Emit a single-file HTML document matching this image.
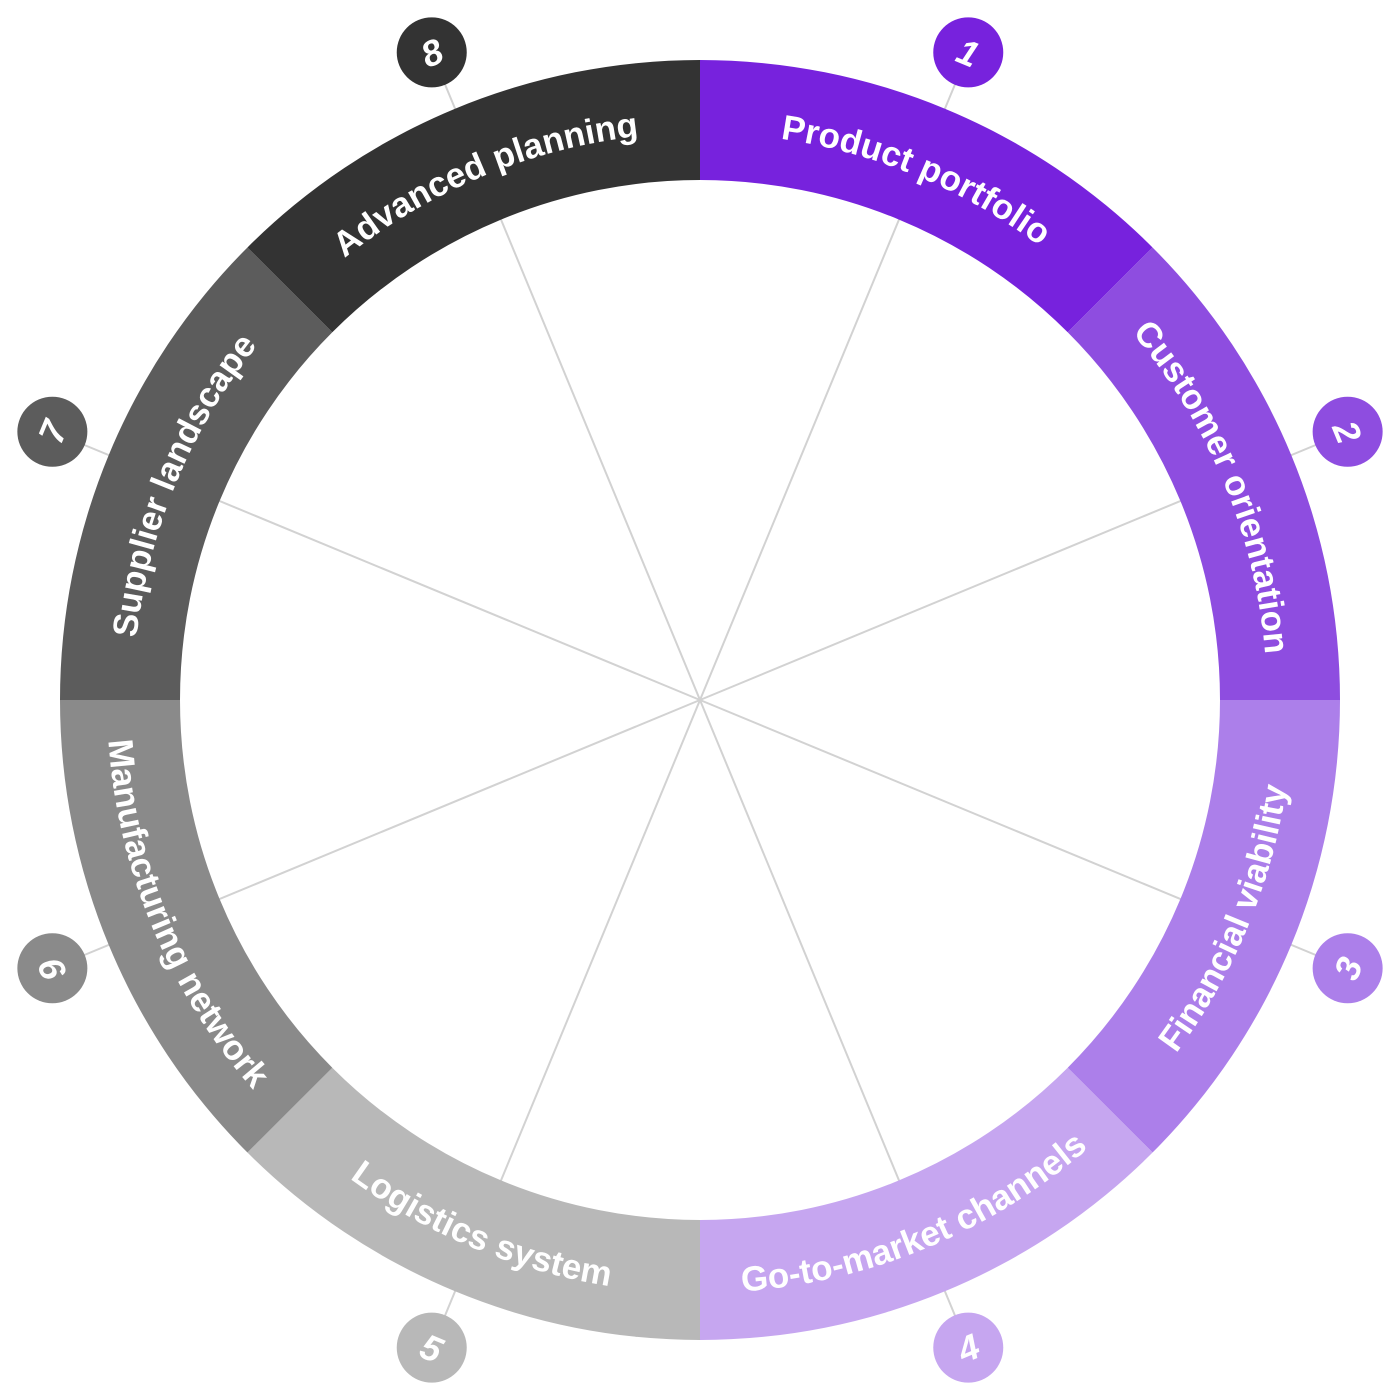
<!DOCTYPE html>
<html><head><meta charset="utf-8"><style>
html,body{margin:0;padding:0;background:#fff;width:1400px;height:1400px;overflow:hidden}
svg text{font-family:"Liberation Sans",sans-serif;fill:#fff}
</style></head><body>
<svg id="chart" width="1400" height="1400" viewBox="0 0 1400 1400" xmlns="http://www.w3.org/2000/svg">
<defs id="defs"></defs>
<g id="spokes"></g>
<g id="ring"></g>
<g id="labels"></g>
<g id="badges"></g>
</svg>
<script>
const categories = ["Product portfolio","Customer orientation","Financial viability","Go-to-market channels","Logistics system","Manufacturing network","Supplier landscape","Advanced planning"];
const numbers = ["1","2","3","4","5","6","7","8"];
const colors = ["#7722DD","#8E4DE0","#AC7FEA","#C6A6F0","#B8B8B8","#8A8A8A","#5C5C5C","#333333"];

const NS="http://www.w3.org/2000/svg";
const cx=700, cy=700, rOut=640, rIn=520, rBadge=701;
const n=categories.length, step=360/n;
function pt(r,a){const t=a*Math.PI/180;return [cx+r*Math.sin(t), cy-r*Math.cos(t)];}
function mk(tag,attrs,parent){const e=document.createElementNS(NS,tag);for(const k in attrs)e.setAttribute(k,attrs[k]);parent.appendChild(e);return e;}
const defs=document.getElementById('defs'), spokes=document.getElementById('spokes'), ring=document.getElementById('ring'), labels=document.getElementById('labels'), badges=document.getElementById('badges');

categories.forEach((cat,i)=>{
  const a0=i*step, a1=(i+1)*step, am=a0+step/2;
  const bp=pt(rBadge,am);
  const ln=mk('line',{x1:cx,y1:cy,x2:bp[0],y2:bp[1],stroke:'#d2d2d2','stroke-width':2},spokes);
  
  
  const p0o=pt(rOut,a0),p1o=pt(rOut,a1),p1i=pt(rIn,a1),p0i=pt(rIn,a0);
  const seg=mk('path',{d:`M${p0o[0]},${p0o[1]} A${rOut},${rOut} 0 0 1 ${p1o[0]},${p1o[1]} L${p1i[0]},${p1i[1]} A${rIn},${rIn} 0 0 0 ${p0i[0]},${p0i[1]} Z`,fill:colors[i]},ring);
  
  
  const top = (am<90||am>270);
  const r = top?567:593;
  let d;
  if(top){const s=pt(r,a0),e=pt(r,a1);d=`M${s[0]},${s[1]} A${r},${r} 0 0 1 ${e[0]},${e[1]}`;}
  else{const s=pt(r,a1),e=pt(r,a0);d=`M${s[0]},${s[1]} A${r},${r} 0 0 0 ${e[0]},${e[1]}`;}
  mk('path',{id:'lp'+i,d:d,fill:'none'},defs);
  const tx=mk('text',{'font-size':35,'font-weight':'bold'},labels);
  
  
  const tp=mk('textPath',{href:'#lp'+i,startOffset:'50%','text-anchor':'middle'},tx);
  tp.textContent=cat;
  const g=mk('g',{transform:`translate(${bp[0]},${bp[1]})`},badges);
  
  
  mk('circle',{r:35,fill:colors[i]},g);
  const rot = top?am:am-180;
  const bt=mk('text',{transform:`rotate(${rot})`,'text-anchor':'middle',y:13,'font-size':36,'font-weight':'bold','font-style':'italic'},g);
  
  
  bt.textContent=numbers[i];
});
</script>
</body></html>
